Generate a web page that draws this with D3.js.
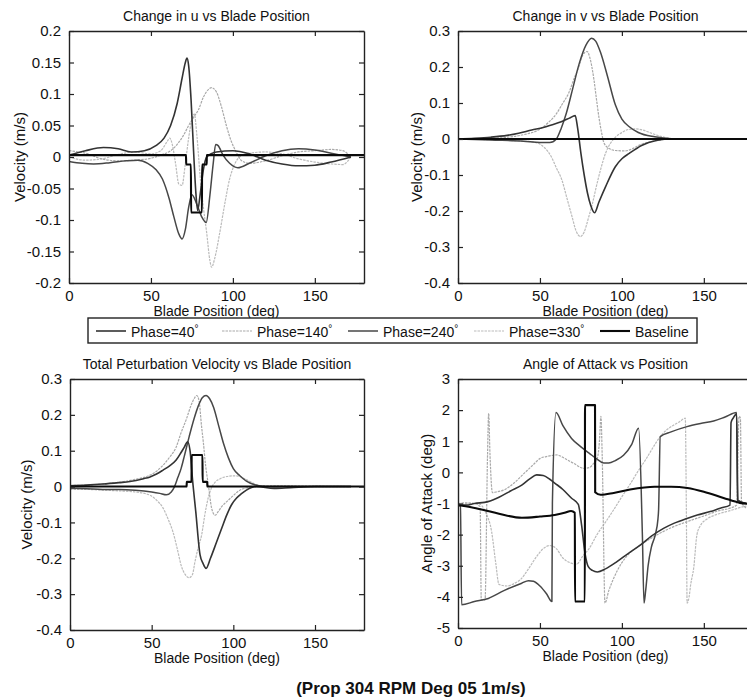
<!DOCTYPE html>
<html><head><meta charset="utf-8">
<script src="https://cdn.jsdelivr.net/npm/d3@7"></script>
<style>
html,body{margin:0;padding:0;background:#fff;}
svg{display:block;font-family:"Liberation Sans",Arial,sans-serif;}
</style></head><body>
<svg id="fig" width="747" height="698"></svg>
<script>
// ---- data: [blade position (deg), value] ----
// Change in u (m/s)
const uP40 = [[0,0.003],[10,0.01],[21,0.015],[30,0.013],[38,0.008],[46,0.01],[53,0.018],[58,0.03],[62,0.05],[66,0.085],[69,0.125],[71,0.15],[72,0.157],[73,0.145],[74.5,0.09],[76,0.01],[77.5,-0.06],[78.5,-0.085],[80,-0.06],[82,-0.02],[84,0.0],[90,0.008],[100,0.01],[110,0.005],[120,-0.005],[130,-0.011],[140,-0.014],[150,-0.013],[160,-0.008],[172,0.0]];
const uP140 = [[0,0.01],[10,0.006],[20,-0.003],[30,-0.006],[40,-0.005],[50,-0.002],[57,0.004],[62,0.01],[66,0.02],[70,0.035],[73,0.05],[76,0.063],[79,0.075],[82,0.095],[85,0.107],[87,0.11],[90,0.103],[93,0.08],[96,0.05],[99,0.025],[102,0.008],[105,-0.005],[110,-0.01],[120,-0.006],[130,0.002],[140,0.008],[150,0.01],[160,0.012],[167,0.01],[172,0.0]];
const uP240 = [[0,-0.007],[8,-0.01],[15,-0.011],[25,-0.009],[35,-0.006],[42,-0.005],[48,-0.01],[53,-0.02],[57,-0.035],[61,-0.065],[64,-0.095],[67,-0.122],[69,-0.13],[71,-0.115],[73,-0.08],[75,-0.06],[78,-0.075],[81,-0.095],[83.7,-0.104],[86,-0.06],[88,-0.01],[89.5,0.02],[91,0.018],[94,0.003],[98,-0.01],[103,-0.017],[110,-0.01],[120,0.002],[130,0.01],[140,0.013],[150,0.011],[160,0.006],[172,0.0]];
const uP330 = [[0,0.0],[10,-0.005],[20,-0.003],[30,0.004],[40,0.008],[50,0.005],[56,0.01],[60,0.025],[61.5,0.03],[63,0.02],[65,-0.01],[67,-0.043],[69,-0.045],[71,-0.01],[73,0.03],[75,0.06],[76.5,0.068],[78,0.035],[80,-0.03],[82,-0.08],[84,-0.12],[86,-0.165],[87,-0.175],[89,-0.16],[92,-0.12],[95,-0.075],[98,-0.035],[101,-0.012],[104,0.0],[110,0.006],[120,0.008],[130,0.005],[140,-0.003],[150,-0.008],[160,-0.011],[167,-0.012],[172,0.0]];
const uBase = [[0,0.003],[71.4,0.003],[71.5,-0.012],[74.4,-0.012],[74.5,-0.088],[81.1,-0.088],[81.2,-0.012],[84.0,-0.012],[84.1,0.003],[180,0.003]];

// Change in v (m/s)
const vP40 = [[0,0.0],[10,0.002],[20,0.005],[30,0.01],[37,0.016],[45,0.025],[52,0.032],[57,0.039],[63,0.048],[68,0.058],[71.5,0.065],[73,0.03],[75,-0.04],[77,-0.1],[79,-0.15],[81,-0.185],[83.3,-0.205],[86,-0.175],[90,-0.133],[96,-0.077],[100,-0.055],[104.5,-0.04],[112,-0.018],[121,-0.004],[130,0.0],[172,0.0]];
const vP140 = [[0,0],[20,0.002],[30,0.005],[40,0.012],[49,0.025],[55,0.045],[60,0.07],[64,0.1],[67.5,0.127],[71,0.17],[73.7,0.2],[76,0.232],[78.8,0.243],[80.5,0.225],[83,0.163],[84.5,0.11],[86,0.06],[87.5,0.02],[89,-0.01],[92,-0.026],[96,-0.032],[102,-0.033],[106,-0.028],[110.7,-0.017],[117,-0.008],[123,-0.003],[130,0.0],[172,0]];
const vP240 = [[0,0],[20,-0.003],[40,-0.006],[50,-0.01],[56,-0.01],[60,0.0],[63,0.03],[66,0.07],[70,0.14],[74,0.21],[78,0.26],[81.5,0.28],[84,0.272],[87,0.24],[91,0.178],[96,0.095],[100,0.055],[104.5,0.034],[110,0.018],[120,0.006],[130,0.001],[172,0.0]];
const vP330 = [[0,0],[20,-0.002],[30,-0.004],[40,-0.006],[45,-0.008],[49,-0.012],[53,-0.025],[57,-0.05],[60,-0.08],[63.4,-0.114],[66.5,-0.165],[69.6,-0.216],[72,-0.255],[74.7,-0.271],[77,-0.258],[79.8,-0.216],[82,-0.18],[84,-0.14],[87,-0.085],[90,-0.04],[93,-0.012],[96.3,0.006],[100,0.018],[104.5,0.027],[108,0.028],[112.8,0.025],[117,0.018],[121,0.011],[125,0.006],[129,0.002],[135,0],[172,0]];
const vBase = [[0,0],[180,0]];

// Total perturbation velocity (m/s)
const tP40 = [[0,0.002],[10,0.004],[20,0.007],[30,0.011],[36.7,0.014],[45,0.022],[49,0.027],[53,0.035],[57,0.046],[61,0.058],[65,0.074],[68,0.095],[70,0.11],[72,0.125],[73.5,0.1],[75,0.02],[77,-0.07],[79.6,-0.19],[81.5,-0.215],[83.3,-0.228],[86,-0.2],[89.8,-0.154],[93,-0.115],[96,-0.079],[99,-0.05],[102,-0.032],[105,-0.02],[108,-0.01],[114,0.0],[125,-0.005],[135,-0.003],[150,0.0],[172,0]];
const tP140 = [[0,0.003],[10,0.004],[20,0.007],[30,0.012],[40,0.02],[49,0.032],[53,0.043],[57,0.06],[61,0.082],[65,0.11],[68,0.15],[71.4,0.19],[74,0.225],[76,0.245],[77.6,0.254],[79,0.24],[80.5,0.17],[81.6,0.125],[83,0.06],[84.7,0.005],[86.7,-0.06],[88.8,-0.08],[91,-0.068],[93,-0.055],[96,-0.042],[100,-0.025],[104,-0.01],[108,-0.004],[112,0.0],[120,0.002],[172,0]];
const tP240 = [[0,-0.005],[10,-0.006],[20,-0.008],[30,-0.008],[40,-0.01],[50,-0.015],[55,-0.019],[59,-0.023],[62,-0.015],[64,0.0],[66,0.025],[68,0.05],[70,0.085],[73,0.14],[76,0.19],[79,0.23],[81,0.248],[83.3,0.254],[85.5,0.245],[88,0.22],[91,0.17],[94,0.12],[97,0.08],[100,0.05],[104,0.03],[108,0.015],[113,0.005],[120,0.0],[130,0.0],[172,0]];
const tP330 = [[0,-0.008],[10,-0.008],[20,-0.01],[30,-0.012],[40,-0.015],[49,-0.024],[53,-0.038],[57,-0.06],[60,-0.09],[63,-0.126],[66,-0.18],[68,-0.219],[70.5,-0.245],[73,-0.254],[75,-0.245],[76.5,-0.21],[78.5,-0.17],[80.6,-0.135],[82.5,-0.08],[84.7,-0.03],[86.5,-0.005],[88.8,0.012],[92,0.022],[96,0.028],[100,0.03],[103,0.029],[106,0.024],[109,0.017],[112,0.01],[115,0.004],[118,0.0],[172,0]];
const tBase = [[0,0],[71.4,0],[71.5,0.013],[74.4,0.013],[74.5,0.088],[81.1,0.088],[81.2,0.013],[84.0,0.013],[84.1,0],[180,0]];

// Angle of attack (deg)
const aP40 = [[0,-1.05],[5,-1.05],[10,-1.0],[18.3,-0.94],[25,-0.8],[32,-0.6],[38.9,-0.41],[44,-0.2],[48,-0.08],[52,-0.1],[56,-0.22],[59.2,-0.35],[64,-0.55],[69.3,-0.83],[73.4,-1.03],[75.4,-1.69],[77.5,-2.6],[79.5,-3.03],[82,-3.15],[85,-3.2],[90,-3.1],[97,-2.87],[104,-2.6],[111.2,-2.34],[118,-2.05],[125.4,-1.8],[132,-1.63],[139.7,-1.48],[146,-1.37],[153.9,-1.26],[160,-1.15],[166,-1.05],[166.6,1.6],[168,1.75],[170,1.88],[170.6,-0.9],[176,-1.0]];
const aP140 = [[0,-1.0],[5,-0.98],[10,-1.0],[13.5,-1.1],[14.2,-4.1],[16.5,-4.1],[18,0.5],[18.7,1.9],[19.5,0.6],[21,-0.65],[24,-0.62],[28.7,-0.55],[34,-0.35],[40,-0.05],[46,0.25],[50.2,0.45],[55,0.52],[60.4,0.56],[65,0.45],[70.6,0.29],[76.7,0.13],[80,0.15],[83,0.3],[85,0.45],[86.3,1.0],[87.2,1.8],[88,0.5],[89.7,-4.2],[92,-3.8],[95,-3.4],[100,-2.9],[105,-2.58],[110,-2.38],[120,-2.05],[130,-1.78],[140,-1.58],[150,-1.4],[160,-1.22],[166,-1.15],[170,-1.05],[171.5,1.8],[172.3,1.75],[173,-0.95],[176,-1.15]];
const aP240 = [[0,-1.05],[1.5,-1.1],[2.2,-4.25],[10,-4.15],[18.5,-4.05],[28,-3.8],[38.9,-3.56],[43,-3.48],[46,-3.5],[50,-3.65],[54,-3.9],[57.3,-4.15],[57.6,-1.0],[59.8,1.92],[64,1.5],[69.3,1.09],[75,0.82],[80,0.62],[85,0.42],[89,0.3],[92,0.3],[96,0.38],[101,0.55],[106,0.9],[110.2,1.42],[112.5,-2.0],[113.5,-4.2],[114.5,-3.8],[116,-3.0],[118,-2.4],[120.4,-2.0],[122,-1.5],[122.4,-1.2],[123.4,1.15],[130,1.3],[139.7,1.47],[148,1.57],[156,1.65],[163,1.78],[170,1.92],[170.8,-0.9],[176,-1.0]];
const aP330 = [[0,-1.05],[8,-1.0],[12,-1.0],[15,-1.1],[17,-1.3],[20.5,-1.9],[23,-2.9],[25,-3.6],[30,-3.65],[35,-3.55],[38,-3.45],[43,-3.1],[48,-2.7],[52,-2.45],[56,-2.35],[60,-2.45],[64,-2.75],[68.3,-2.9],[72.4,-2.95],[76,-2.7],[80,-2.45],[84.8,-2.0],[90,-1.6],[95,-1.2],[100,-0.78],[105,-0.38],[110,0.05],[115,0.45],[119,0.8],[123.4,1.15],[127,1.35],[131,1.5],[135,1.62],[138.7,1.74],[139.3,-1.0],[139.8,-4.2],[141,-4.0],[142,-3.6],[143.8,-3.08],[145.8,-2.0],[148,-1.7],[151.9,-1.5],[158,-1.35],[166,-1.23],[174.3,-1.1],[176,-1.08]];
const aBase = [[0,-1.05],[8,-1.12],[15,-1.2],[25,-1.33],[39,-1.46],[50,-1.42],[59,-1.37],[65,-1.3],[69,-1.24],[71.3,-1.3],[71.4,-4.15],[77.4,-4.15],[77.5,2.16],[83.6,2.16],[83.7,-0.64],[87,-0.72],[95,-0.66],[105,-0.55],[120,-0.46],[130,-0.46],[140,-0.5],[150,-0.62],[162,-0.82],[172,-0.98],[180,-1.02]];

// ---- axis ticks and labels ----
const xDomain = [0, 180];
const xTicks = [0, 50, 100, 150];
const velTicksU = [-0.2, -0.15, -0.1, -0.05, 0, 0.05, 0.1, 0.15, 0.2];
const velTicksV = [-0.4, -0.3, -0.2, -0.1, 0, 0.1, 0.2, 0.3];
const aoaTicks = [-5, -4, -3, -2, -1, 0, 1, 2, 3];
const seriesNames = ["Phase=40", "Phase=140", "Phase=240", "Phase=330", "Baseline"];
const titles = ["Change in u vs Blade Position", "Change in v vs Blade Position",
                "Total Peturbation Velocity vs Blade Position", "Angle of Attack vs Position"];
const xLabel = "Blade Position (deg)";
const yLabels = ["Velocity (m/s)", "Velocity (m/s)", "Velocity (m/s)", "Angle of Attack (deg)"];
const figureNote = "(Prop 304 RPM Deg 05 1m/s)";

// ---- styling per series (order matches seriesNames) ----
const seriesStyle = [
  {stroke: "#333", width: 1.6, dash: null},
  {stroke: "#a9a9a9", width: 1.2, dash: "2.5,1"},
  {stroke: "#474747", width: 1.5, dash: null},
  {stroke: "#bbbbbb", width: 1.2, dash: "2.5,1"},
  {stroke: "#0a0a0a", width: 2.1, dash: null}
];
const drawOrder = [3, 1, 2, 0, 4];

const svg = d3.select("#fig");

const panels = [
  {x0: 69, x1: 364, y0: 31, y1: 283, yDomain: [-0.2, 0.2], yTicks: velTicksU,
   series: [uP40, uP140, uP240, uP330, uBase], ylabX: 20},
  {x0: 458, x1: 753, y0: 31, y1: 283, yDomain: [-0.4, 0.3], yTicks: velTicksV,
   series: [vP40, vP140, vP240, vP330, vBase], ylabX: 417},
  {x0: 70, x1: 364, y0: 379, y1: 630, yDomain: [-0.4, 0.3], yTicks: velTicksV,
   series: [tP40, tP140, tP240, tP330, tBase], ylabX: 27},
  {x0: 458, x1: 753, y0: 379, y1: 628, yDomain: [-5, 3], yTicks: aoaTicks,
   series: [aP40, aP140, aP240, aP330, aBase], ylabX: 427}
];

const fmt = v => String(v);

panels.forEach((p, i) => {
  const x = d3.scaleLinear().domain(xDomain).range([p.x0, p.x1]);
  const y = d3.scaleLinear().domain(p.yDomain).range([p.y1, p.y0]);
  const g = svg.append("g");

  const clipId = "clip" + i;
  svg.append("clipPath").attr("id", clipId).append("rect")
    .attr("x", p.x0).attr("y", p.y0).attr("width", p.x1 - p.x0).attr("height", p.y1 - p.y0);

  // curves
  const line = d3.line().x(d => x(d[0])).y(d => y(d[1])).curve(d3.curveMonotoneX);
  const cg = g.append("g").attr("clip-path", `url(#${clipId})`);
  drawOrder.forEach(k => {
    const s = seriesStyle[k];
    cg.append("path").datum(p.series[k])
      .attr("d", line).attr("fill", "none")
      .attr("stroke", s.stroke).attr("stroke-width", s.width)
      .attr("stroke-dasharray", s.dash)
      .attr("stroke-linejoin", "round");
  });

  // axes box with inward ticks on all sides
  const bottom = d3.axisBottom(x).tickValues(xTicks).tickSizeInner(-5).tickSizeOuter(0).tickPadding(7).tickFormat(fmt);
  const top = d3.axisTop(x).tickValues(xTicks).tickSizeInner(-5).tickSizeOuter(0).tickFormat("");
  const left = d3.axisLeft(y).tickValues(p.yTicks).tickSizeInner(-5).tickSizeOuter(0).tickPadding(8).tickFormat(fmt);
  const right = d3.axisRight(y).tickValues(p.yTicks).tickSizeInner(-5).tickSizeOuter(0).tickFormat("");

  const axes = [
    g.append("g").attr("transform", `translate(0,${p.y1})`).call(bottom),
    g.append("g").attr("transform", `translate(0,${p.y0})`).call(top),
    g.append("g").attr("transform", `translate(${p.x0},0)`).call(left),
    g.append("g").attr("transform", `translate(${p.x1},0)`).call(right)
  ];
  axes.forEach(a => {
    a.select(".domain").attr("stroke", "#222").attr("stroke-width", 1.4);
    a.selectAll(".tick line").attr("stroke", "#222").attr("stroke-width", 1.2);
    a.selectAll(".tick text").attr("fill", "#111").attr("font-size", 15)
      .attr("font-family", '"Liberation Sans", Arial, sans-serif');
  });

  // title
  g.append("text").attr("x", (p.x0 + p.x1) / 2).attr("y", p.y0 - 10)
    .attr("text-anchor", "middle").attr("font-size", 14).attr("fill", "#111").text(titles[i]);
  // x label
  g.append("text").attr("x", (p.x0 + p.x1) / 2).attr("y", p.y1 + 33)
    .attr("text-anchor", "middle").attr("font-size", 14).attr("fill", "#111").text(xLabel);
  // y label
  const cy = (p.y0 + p.y1) / 2;
  g.append("text").attr("transform", `translate(${p.ylabX + 5},${cy}) rotate(-90)`)
    .attr("text-anchor", "middle").attr("font-size", 15).attr("fill", "#111").text(yLabels[i]);
});

// legend
const leg = svg.append("g");
leg.append("rect").attr("x", 88).attr("y", 318).attr("width", 609).attr("height", 25)
  .attr("fill", "#fff").attr("stroke", "#222").attr("stroke-width", 1.4);
const legX = d3.scalePoint().domain(seriesNames).range([96, 600]);
seriesNames.forEach((name, k) => {
  const s = seriesStyle[k];
  const lx = legX(name);
  leg.append("line").attr("x1", lx).attr("x2", lx + 30).attr("y1", 331).attr("y2", 331)
    .attr("stroke", s.stroke).attr("stroke-width", s.width).attr("stroke-dasharray", s.dash);
  const t = leg.append("text").attr("x", lx + 35).attr("y", 337).attr("font-size", 14).attr("fill", "#111").text(name);
  if (k < 4) t.append("tspan").attr("font-size", 10).attr("dy", -5).text("°");
});

// figure note
svg.append("text").attr("x", 411).attr("y", 694).attr("text-anchor", "middle")
  .attr("font-size", 17).attr("font-weight", "bold").attr("fill", "#111").text(figureNote);
</script>
</body></html>
